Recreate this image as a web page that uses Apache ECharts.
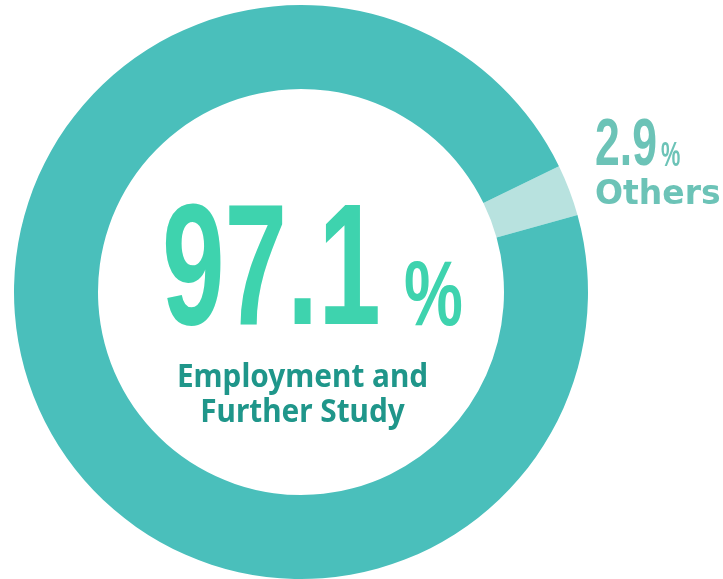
<!DOCTYPE html>
<html>
<head>
<meta charset="utf-8">
<script src="https://cdn.jsdelivr.net/npm/echarts@6/dist/echarts.min.js"></script>
<style>
html,body{margin:0;padding:0;background:#fff;}
#chart{width:723px;height:579px;}
</style>
</head>
<body>
<div id="chart"></div>
<script>
const categories = ['Others', 'Employment and\nFurther Study'];
const values = [2.9, 97.1];
const sliceColors = ['#B8E2DF', '#4ABFBB'];

const chart = echarts.init(document.getElementById('chart'), null, {renderer: 'canvas'});
const numFont = '"Liberation Sans", Arial, sans-serif';

chart.setOption({
  backgroundColor: '#ffffff',
  animation: false,
  series: [{
    type: 'pie',
    center: [301, 292],
    radius: [203, 287],
    startAngle: 26,
    clockwise: true,
    silent: true,
    label: {show: false},
    labelLine: {show: false},
    itemStyle: {borderWidth: 0},
    data: categories.map((c, i) => ({name: c, value: values[i], itemStyle: {color: sliceColors[i]}}))
  }],
  graphic: [
    {type: 'text', x: 162, y: 276, scaleX: 0.65, silent: true,
     style: {text: values[1].toFixed(1), font: 'bold 173px ' + numFont, fill: '#3ED3AE', align: 'left', verticalAlign: 'middle'}},
    {type: 'text', x: 404, y: 300, scaleX: 0.72, silent: true,
     style: {text: '%', font: 'bold 92px ' + numFont, fill: '#3ED3AE', align: 'left', verticalAlign: 'middle'}},
    {type: 'text', x: 302.5, y: 395, scaleX: 0.93, silent: true,
     style: {text: categories[1], font: 'bold 32px "Noto Sans", sans-serif', lineHeight: 35, fill: '#1F968A', align: 'center', verticalAlign: 'middle'}},
    {type: 'text', x: 595, y: 146.5, scaleX: 0.675, silent: true,
     style: {text: values[0].toFixed(1), font: 'bold 66px ' + numFont, fill: '#6CC3B7', align: 'left', verticalAlign: 'middle'}},
    {type: 'text', x: 661, y: 156, scaleX: 0.62, silent: true,
     style: {text: '%', font: 'bold 35px ' + numFont, fill: '#6CC3B7', align: 'left', verticalAlign: 'middle'}},
    {type: 'text', x: 595, y: 195, silent: true,
     style: {text: categories[0], font: 'bold 33px "DejaVu Sans", sans-serif', fill: '#6CC3B7', align: 'left', verticalAlign: 'middle'}}
  ]
});
</script>
</body>
</html>
